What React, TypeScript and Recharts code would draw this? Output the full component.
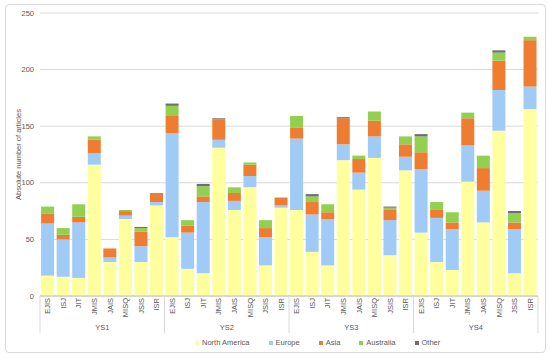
import React from 'react';
import { BarChart, Bar, XAxis, YAxis, CartesianGrid, Legend } from 'recharts';

const categories = ['EJIS', 'ISJ', 'JIT', 'JMIS', 'JAIS', 'MISQ', 'JSIS', 'ISR'];
const groups = ['YS1', 'YS2', 'YS3', 'YS4'];
const yTicks = [0, 50, 100, 150, 200, 250];

const northAmerica = [
  18, 17, 16, 116, 30, 68, 30, 80,
  52, 24, 20, 131, 76, 96, 27, 78,
  76, 39, 27, 120, 94, 122, 36, 111,
  56, 30, 23, 101, 65, 146, 20, 165,
];
const europe = [
  46, 33, 49, 10, 4, 3, 14, 3,
  92, 32, 63, 7, 8, 10, 25, 2,
  63, 33, 41, 14, 15, 19, 31, 12,
  56, 39, 36, 32, 28, 36, 39, 20,
];
const asia = [
  9, 4, 5, 12, 8, 4, 13, 8,
  15, 6, 5, 18, 7, 10, 8, 7,
  10, 11, 6, 23, 12, 14, 9, 11,
  15, 7, 6, 24, 20, 26, 6, 41,
];
const australia = [
  6, 6, 11, 3, 0, 1, 3, 0,
  9, 5, 9, 0, 5, 2, 7, 0,
  10, 5, 7, 0, 3, 8, 2, 7,
  14, 7, 9, 5, 11, 7, 8, 3,
];
const other = [
  0, 0, 0, 0, 0, 0, 1, 0,
  2, 0, 2, 1, 0, 0, 0, 0,
  0, 2, 0, 1, 0, 0, 1, 0,
  2, 0, 0, 0, 0, 2, 2, 0,
];

const series = [
  { key: 'na', name: 'North America', color: '#FFFF9E', values: northAmerica },
  { key: 'eu', name: 'Europe', color: '#9FCBF6', values: europe },
  { key: 'as', name: 'Asia', color: '#EE7D31', values: asia },
  { key: 'au', name: 'Australia', color: '#92D050', values: australia },
  { key: 'ot', name: 'Other', color: '#6E6E6E', values: other },
];

const data = groups.flatMap((g, gi) =>
  categories.map((c, ci) => {
    const i = gi * categories.length + ci;
    const row: Record<string, any> = { id: `${g}-${c}`, group: g, cat: c };
    series.forEach((s) => {
      row[s.key] = s.values[i];
    });
    return row;
  })
);

const W = 550;
const H = 358;
const PLOT_LEFT = 40;
const PLOT_RIGHT = 538;
const SLOT = (PLOT_RIGHT - PLOT_LEFT) / data.length;
const FONT = '"Liberation Sans", Arial, sans-serif';
const TEXT = '#595959';
const LINE = '#D9D9D9';

const CatTick = (props: any) => {
  const { x, y, payload } = props;
  const i = props.index ?? payload.index;
  const n = categories.length;
  const label = categories[i % n];
  const ty = y + 2;
  return (
    <g>
      <text
        x={x}
        y={ty}
        transform={`rotate(-90, ${x}, ${ty})`}
        textAnchor="end"
        dominantBaseline="central"
        fontSize={7.5}
        fontFamily={FONT}
        fill={TEXT}
      >
        {label}
      </text>
      {i % n === 0 && (
        <line x1={x - SLOT / 2} x2={x - SLOT / 2} y1={y} y2={y + 37} stroke={LINE} strokeWidth={1} />
      )}
      {i === data.length - 1 && (
        <line x1={x + SLOT / 2} x2={x + SLOT / 2} y1={y} y2={y + 37} stroke={LINE} strokeWidth={1} />
      )}
      {i % n === n / 2 - 1 && (
        <text
          x={x + SLOT / 2}
          y={y + 31}
          textAnchor="middle"
          dominantBaseline="central"
          fontSize={7.5}
          fontFamily={FONT}
          fill={TEXT}
        >
          {groups[Math.floor(i / n)]}
        </text>
      )}
    </g>
  );
};

const LegendContent = () => (
  <div
    style={{
      display: 'flex',
      alignItems: 'center',
      paddingLeft: 195,
      fontFamily: FONT,
      fontSize: 7.5,
      color: TEXT,
      lineHeight: '12px',
    }}
  >
    {series.map((s) => (
      <div key={s.key} style={{ display: 'flex', alignItems: 'center', marginRight: 19 }}>
        <span style={{ display: 'inline-block', width: 4, height: 4, background: s.color, marginRight: 3 }} />
        <span>{s.name}</span>
      </div>
    ))}
  </div>
);

const YTitle = () => (
  <text
    x={18}
    y={154.5}
    transform="rotate(-90, 18, 154.5)"
    textAnchor="middle"
    dominantBaseline="central"
    fontSize={7.5}
    fontFamily={FONT}
    fill={TEXT}
  >
    Absolute number of articles
  </text>
);

export default function App() {
  return (
    <div style={{ position: 'absolute', left: 0, top: 0, width: W, height: H, background: '#fff' }}>
      <div
        style={{
          position: 'absolute',
          left: 5,
          top: 4,
          width: 539,
          height: 347,
          border: `1px solid ${LINE}`,
          borderRadius: 4,
          pointerEvents: 'none',
        }}
      />
      <BarChart
        width={W}
        height={H}
        data={data}
        margin={{ top: 13, right: W - PLOT_RIGHT, left: 0, bottom: 0 }}
        barCategoryGap="7%"
        style={{ position: 'absolute', left: 0, top: 0 }}
      >
        <CartesianGrid vertical={false} stroke={LINE} strokeWidth={1} />
        <XAxis
          dataKey="id"
          interval={0}
          height={62}
          tickSize={0}
          tickMargin={0}
          tickLine={false}
          axisLine={{ stroke: '#BFBFBF', strokeWidth: 1 }}
          tick={<CatTick />}
        />
        <YAxis
          width={PLOT_LEFT}
          domain={[0, 250]}
          ticks={yTicks}
          interval={0}
          axisLine={false}
          tickLine={false}
          tickSize={6}
          tickMargin={0}
          tick={{ fontSize: 7.5, fill: TEXT, fontFamily: FONT }}
          label={{ content: () => <YTitle /> }}
        />
        <Legend
          layout="horizontal"
          verticalAlign="middle"
          align="center"
          content={<LegendContent />}
          wrapperStyle={{ position: 'absolute', left: 0, top: 337, width: W, height: 12 }}
        />
        {series.map((s) => (
          <Bar key={s.key} dataKey={s.key} name={s.name} stackId="a" fill={s.color} isAnimationActive={false} />
        ))}
      </BarChart>
    </div>
  );
}
